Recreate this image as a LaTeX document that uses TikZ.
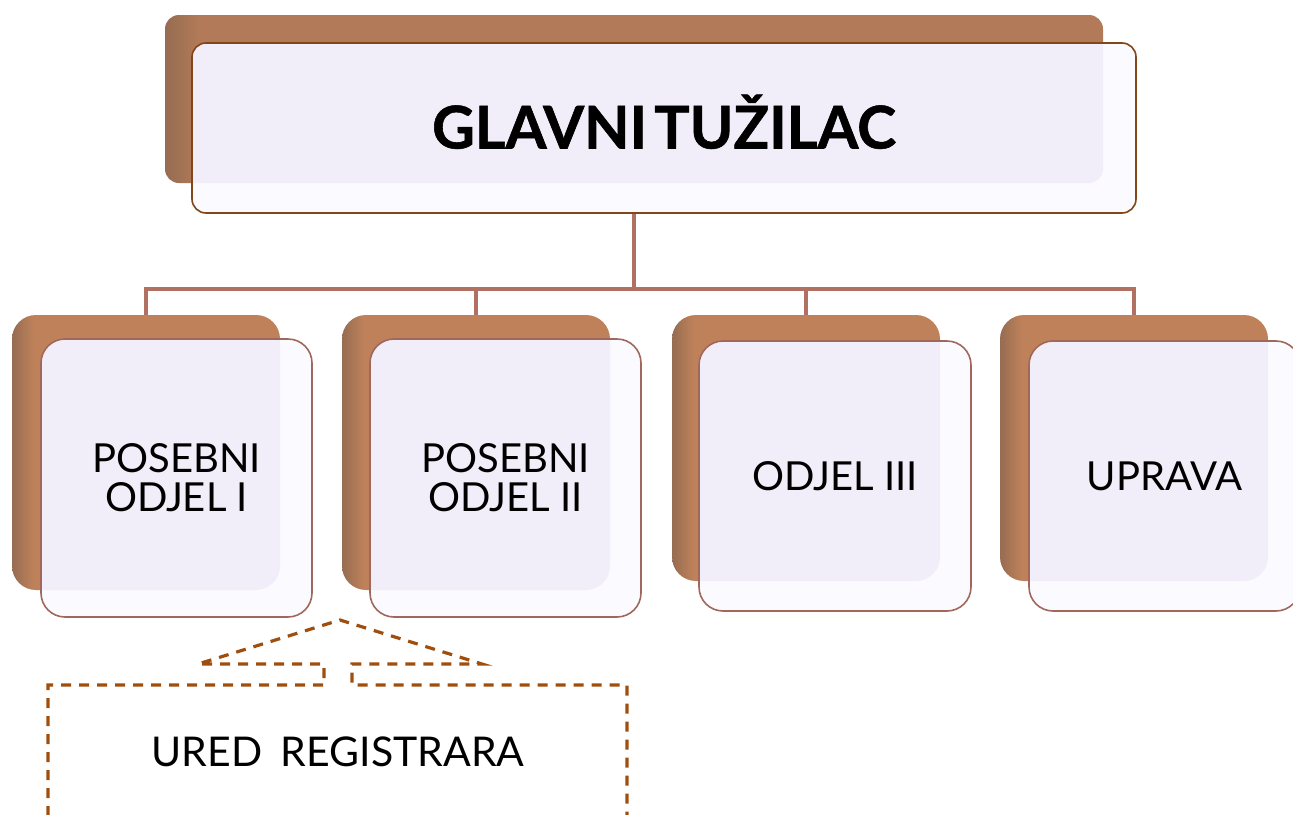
\documentclass[tikz,border=0pt]{standalone}
\usepackage{fontspec}
\setmainfont{Lato}
\newfontfamily\heavyfont{Lato}[FakeBold=1]
\definecolor{shadowD}{RGB}{150,108,82}
\definecolor{shadowL}{RGB}{190,129,90}
\definecolor{shadowT}{RGB}{178,122,88}
\definecolor{frontW}{RGB}{251,250,254}
\definecolor{lav}{RGB}{242,238,249}
\definecolor{topborder}{RGB}{130,70,25}
\definecolor{boxborder}{RGB}{160,104,92}
\definecolor{connc}{RGB}{176,112,98}
\definecolor{dashc}{RGB}{160,78,14}
\pgfdeclarehorizontalshading{shadlow}{100bp}{color(0bp)=(shadowD); color(25bp)=(shadowD); color(29bp)=(shadowL); color(100bp)=(shadowL)}
\pgfdeclarehorizontalshading{shadtop}{100bp}{color(0bp)=(shadowD); color(25bp)=(shadowD); color(26.8bp)=(shadowT); color(100bp)=(shadowT)}
\pgfdeclarelayer{lconn}
\pgfdeclarelayer{lshadow}
\pgfdeclarelayer{lfill}
\pgfdeclarelayer{llav}
\pgfsetlayers{lconn,lshadow,lfill,llav,main}
\tikzset{
  shadbox/.style={inner sep=0pt, outer sep=0pt, rounded corners=24pt,
    shading=shadlow, minimum width=268pt},
  frontbox/.style={draw=boxborder, line width=1.6pt, rounded corners=24pt,
    inner sep=0pt, outer sep=0pt, minimum width=271pt, align=center,
    font=\fontsize{40}{39}\selectfont},
  conn/.style={draw=connc, line width=4pt},
  dashline/.style={draw=dashc, line width=3.2pt, dash pattern=on 10pt off 8pt},
}
\begin{document}
\begin{tikzpicture}[x=1pt,y=-1pt]
\useasboundingbox (0,0) rectangle (1293,814);
% shadows
\begin{pgfonlayer}{lshadow}
\node[shadbox, shading=shadtop, rounded corners=14pt, minimum width=938pt, minimum height=168pt] (sh0) at (634,99) {};
\node[shadbox, minimum height=275pt] (sh1) at (146,452.5) {};
\node[shadbox, minimum height=275pt] (sh2) at (476,452.5) {};
\node[shadbox, minimum height=266pt] (sh3) at (806,448) {};
\node[shadbox, minimum height=266pt] (sh4) at (1134,448) {};
\end{pgfonlayer}
% front boxes with text
\node[frontbox, draw=topborder, rounded corners=14pt, minimum width=944pt, minimum height=170pt,
      font=\fontsize{59}{63}\heavyfont\bfseries, text height=41pt, text depth=0pt] (f0) at (664,128) {GLAVNI\hspace{0.12em}TUŽILAC};
\node[frontbox, minimum height=278pt] (f1) at (176.5,478) {POSEBNI\\ODJEL I};
\node[frontbox, minimum height=278pt] (f2) at (505.5,478) {POSEBNI\\ODJEL II};
\node[frontbox, minimum height=270pt, minimum width=272pt] (f3) at (835,476) {ODJEL III};
\node[frontbox, minimum height=270pt] (f4) at (1164.5,476) {UPRAVA};
% fills
\begin{pgfonlayer}{lfill}
\fill[frontW, rounded corners=14pt] (f0.south west) rectangle (f0.north east);
\foreach \i in {1,2,3,4} {
  \fill[frontW, rounded corners=24pt] (f\i.south west) rectangle (f\i.north east);
}
\end{pgfonlayer}
\begin{pgfonlayer}{llav}
\begin{scope}
\clip[rounded corners=14pt] (f0.south west) rectangle (f0.north east);
\fill[lav, rounded corners=14pt] (sh0.south west) rectangle (sh0.north east);
\end{scope}
\foreach \i in {1,2,3,4} {
  \begin{scope}
  \clip[rounded corners=24pt] (f\i.south west) rectangle (f\i.north east);
  \fill[lav, rounded corners=24pt] (sh\i.south west) rectangle (sh\i.north east);
  \end{scope}
}
\end{pgfonlayer}
% connectors
\begin{pgfonlayer}{lconn}
\coordinate (bus) at (634,289);
\draw[conn] (sh0.center |- f0.south) -- (sh0.center |- bus);
\draw[conn, line cap=rect] (sh1.north |- bus) -- (sh4.north |- bus);
\foreach \i in {1,2,3,4} {
  \draw[conn] (sh\i.north |- bus) -- (sh\i.north);
}
\end{pgfonlayer}
% registrar callout
\node[font=\fontsize{41}{41}\selectfont, inner sep=0pt] (reg) at (338,752) {URED\hspace{0.45em}REGISTRARA};
\coordinate (apex) at (340,620);
\coordinate (l1) at (198,664);
\coordinate (l2) at (324,664);
\coordinate (l3) at (324,685);
\coordinate (l4) at (48,685);
\coordinate (l5) at (48,816);
\coordinate (r1) at (482,664);
\coordinate (r2) at (352,664);
\coordinate (r3) at (352,685);
\coordinate (r4) at (627,685);
\coordinate (r5) at (627,816);
\draw[dashline] (l5) -- (l4) -- (l3) -- (l2) -- (l1) -- (apex) -- (r1) -- (r2) -- (r3) -- (r4) -- (r5);
\end{tikzpicture}
\end{document}
